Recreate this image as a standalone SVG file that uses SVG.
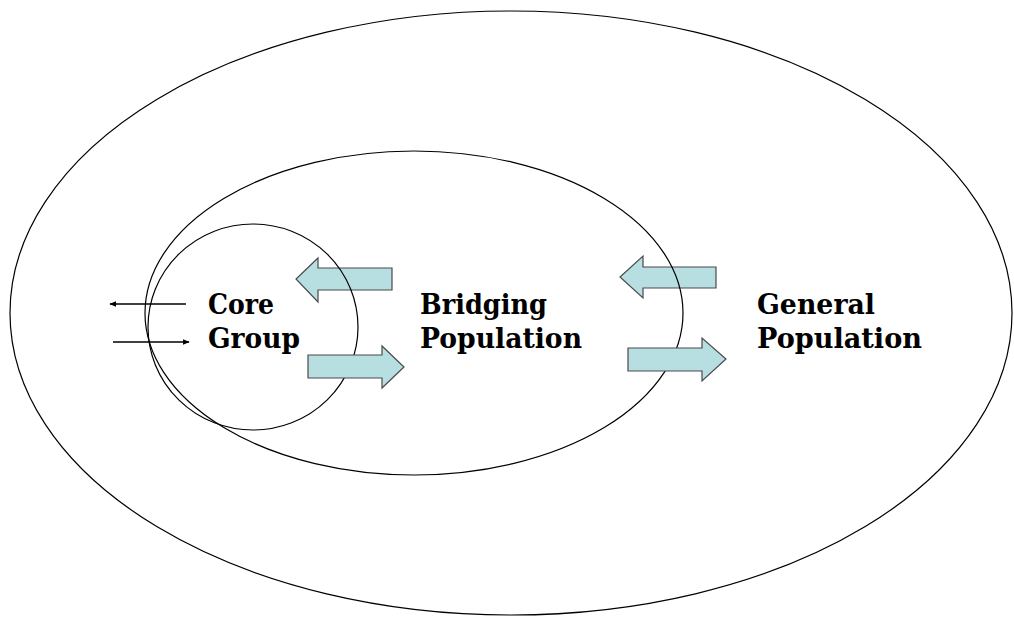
<svg xmlns="http://www.w3.org/2000/svg" width="1014" height="623" viewBox="0 0 1014 623">
<style>
.ring{fill:none;stroke:#000;stroke-width:1.2}
.big{fill:#b7dee1;stroke:#4a4a4a;stroke-width:1.2}
.lbl{font-family:"DejaVu Serif","Liberation Serif",serif;font-weight:bold;font-size:27px;fill:#000}
.thin{stroke:#000;stroke-width:1.3;fill:none}
</style>
<defs>
<marker id="ah" viewBox="0 0 10 10" refX="9" refY="5" markerWidth="7" markerHeight="7" orient="auto" markerUnits="userSpaceOnUse">
<path d="M0,1 L10,5 L0,9 Z" fill="#000"/>
</marker>
</defs>
<rect width="1014" height="623" fill="#fff"/>
<g id="connectors-back">
<path class="big" d="M392,268 L318,268 L318,258 L296,279 L318,302 L318,290 L392,290 Z"/>
<path class="big" d="M716,267 L643,267 L643,256 L620,277 L643,298 L643,288 L716,288 Z"/>
</g>
<g id="general-population">
<ellipse class="ring" cx="511" cy="313" rx="501" ry="302"/>
<text class="lbl" x="757" y="314" textLength="118" lengthAdjust="spacingAndGlyphs">General</text>
<text class="lbl" x="757" y="348" textLength="165" lengthAdjust="spacingAndGlyphs">Population</text>
</g>
<g id="bridging-population">
<ellipse class="ring" cx="414" cy="313" rx="269" ry="162"/>
<text class="lbl" x="420" y="314" textLength="127" lengthAdjust="spacingAndGlyphs">Bridging</text>
<text class="lbl" x="420" y="348" textLength="162" lengthAdjust="spacingAndGlyphs">Population</text>
</g>
<g id="core-group">
<ellipse class="ring" cx="253" cy="327" rx="105" ry="103"/>
<text class="lbl" x="208" y="314" textLength="66" lengthAdjust="spacingAndGlyphs">Core</text>
<text class="lbl" x="208" y="348" textLength="92" lengthAdjust="spacingAndGlyphs">Group</text>
</g>
<g id="connectors">
<line class="thin" x1="186" y1="304" x2="110" y2="304" marker-end="url(#ah)"/>
<line class="thin" x1="113" y1="342" x2="189" y2="342" marker-end="url(#ah)"/>
<path class="big" d="M308,355 L382,355 L382,346 L404,367 L382,388 L382,378 L308,378 Z"/>
<path class="big" d="M628,348 L702,348 L702,338 L726,359 L702,381 L702,371 L628,371 Z"/>
</g>
</svg>
